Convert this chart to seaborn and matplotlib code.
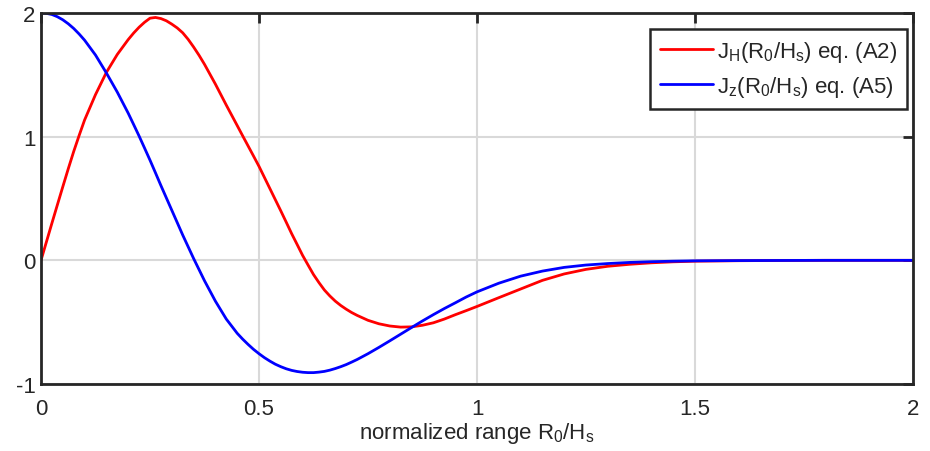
import numpy as np
import pandas as pd
import matplotlib
matplotlib.use("Agg")
import matplotlib.pyplot as plt
import seaborn as sns

# ---- data ----
x_vals = [0.0, 0.0125, 0.025, 0.0375, 0.05, 0.0625, 0.075, 0.0875, 0.1, 0.125, 0.15, 0.175,
          0.2, 0.2125, 0.225, 0.2375, 0.25, 0.2625, 0.275, 0.2875, 0.3, 0.3125, 0.325, 0.3375,
          0.35, 0.3625, 0.375, 0.4, 0.425, 0.45, 0.4625, 0.475, 0.4875, 0.5, 0.5125, 0.525,
          0.5375, 0.55, 0.5625, 0.575, 0.5875, 0.6, 0.6125, 0.625, 0.6375, 0.65, 0.6625, 0.675,
          0.6875, 0.7, 0.7125, 0.725, 0.75, 0.775, 0.8, 0.825, 0.85, 0.875, 0.9, 0.925,
          0.95, 0.975, 1.0, 1.05, 1.1, 1.15, 1.2, 1.25, 1.3, 1.35, 1.4, 1.45,
          1.5, 1.6, 1.7, 1.8, 1.9, 2.0]

j_h = [0.0, 0.15, 0.30, 0.448, 0.595, 0.74, 0.88, 1.01, 1.135, 1.34, 1.52, 1.665,
       1.785, 1.838, 1.885, 1.925, 1.958, 1.964, 1.955, 1.937, 1.91, 1.879, 1.84, 1.787,
       1.725, 1.658, 1.585, 1.425, 1.255, 1.09, 1.007, 0.925, 0.843, 0.76, 0.67, 0.58,
       0.49, 0.40, 0.308, 0.215, 0.128, 0.04, -0.038, -0.115, -0.18, -0.24, -0.288, -0.33,
       -0.365, -0.395, -0.422, -0.445, -0.485, -0.513, -0.531, -0.54, -0.538, -0.525, -0.505, -0.475,
       -0.44, -0.407, -0.373, -0.302, -0.232, -0.162, -0.11, -0.073, -0.048, -0.032, -0.02, -0.012,
       -0.007, -0.003, -0.001, 0.0, 0.0, 0.0]

j_z = [2.0, 1.997, 1.988, 1.97, 1.945, 1.913, 1.875, 1.83, 1.78, 1.66, 1.515, 1.36,
       1.19, 1.098, 1.005, 0.908, 0.81, 0.708, 0.605, 0.505, 0.405, 0.305, 0.205, 0.11,
       0.015, -0.075, -0.165, -0.33, -0.475, -0.59, -0.637, -0.68, -0.72, -0.755, -0.787, -0.815,
       -0.84, -0.86, -0.877, -0.89, -0.899, -0.905, -0.908, -0.908, -0.904, -0.898, -0.888, -0.875,
       -0.86, -0.843, -0.823, -0.802, -0.755, -0.704, -0.651, -0.597, -0.543, -0.49, -0.439, -0.39,
       -0.344, -0.297, -0.255, -0.185, -0.128, -0.087, -0.057, -0.038, -0.026, -0.017, -0.011, -0.007,
       -0.004, -0.002, -0.001, 0.0, 0.0, 0.0]

labels = [r"J$_\mathregular{H}$(R$_\mathregular{0}$/H$_\mathregular{s}$) eq. (A2)",
          r"J$_\mathregular{z}$(R$_\mathregular{0}$/H$_\mathregular{s}$) eq. (A5)"]
colors = ["#ff0000", "#0000ff"]

x_ticks = [0, 0.5, 1, 1.5, 2]
x_tick_labels = ["0", "0.5", "1", "1.5", "2"]
y_ticks = [-1, 0, 1, 2]
y_tick_labels = ["-1", "0", "1", "2"]
x_label = r"normalized range R$_\mathregular{0}$/H$_\mathregular{s}$"

df = pd.DataFrame({
    "x": x_vals + x_vals,
    "y": j_h + j_z,
    "series": [labels[0]] * len(x_vals) + [labels[1]] * len(x_vals),
})

sns.set_style("white")
plt.rcParams["font.family"] = ["Liberation Sans", "DejaVu Sans"]
plt.rcParams["mathtext.default"] = "regular"

fig = plt.figure(figsize=(9.3, 4.52), dpi=100)
ax = fig.add_axes([41 / 930, 1 - 385 / 452, 872 / 930, 371 / 452])

sns.lineplot(data=df, x="x", y="y", hue="series", palette=colors, sort=False,
             estimator=None, linewidth=2.0, ax=ax)

ax.set_xlim(0, 2)
ax.set_ylim(-1, 2)
ax.set_xticks(x_ticks)
ax.set_xticklabels(x_tick_labels)
ax.set_yticks(y_ticks)
ax.set_yticklabels(y_tick_labels)
ax.grid(True, color="#d9d9d9", linewidth=1.5)
ax.set_axisbelow(True)
for s in ax.spines.values():
    s.set_visible(True)
    s.set_color("#262626")
    s.set_linewidth(2.0)
ax.tick_params(direction="in", top=True, right=True, length=7, width=2,
               labelsize=16, colors="#262626", pad=4)
ax.tick_params(axis="x", pad=10)
ax.set_xlabel(x_label, fontsize=16, color="#262626", labelpad=1)
ax.set_ylabel("")

leg = ax.legend(loc="upper right", bbox_to_anchor=(0.993, 0.958), borderaxespad=0,
                fontsize=16, frameon=True, fancybox=False, framealpha=1,
                edgecolor="#262626", handlelength=2.4, handletextpad=0.15,
                borderpad=0.45, labelspacing=0.45)
leg.get_frame().set_linewidth(1.8)
for t in leg.get_texts():
    t.set_color("#262626")

fig.savefig("out.png", dpi=100)
